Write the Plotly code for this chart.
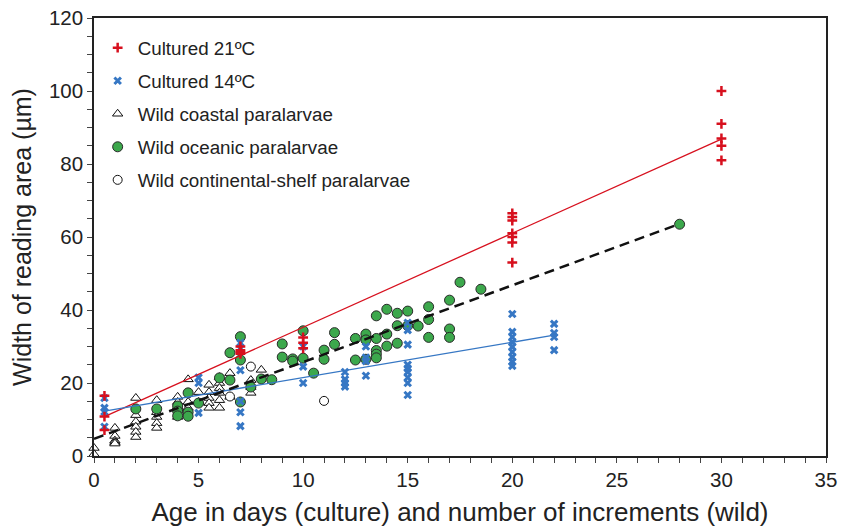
import plotly.graph_objects as go

# ---------------- data ----------------
c21_x = [0.5, 0.5, 0.5, 7, 7, 7, 7, 10, 10, 10,
         20, 20, 20, 20, 20, 20, 20, 30, 30, 30, 30, 30]
c21_y = [16.5, 10.8, 7.1, 30, 29, 28.5, 28, 32.5, 31, 29.5,
         66.5, 65.5, 64.5, 61, 60, 58.5, 53, 100, 91, 87, 85, 81]

c14_x = [0.5, 0.5, 0.5, 0.5, 5, 5, 5, 7, 7, 7, 7, 7, 7,
         10, 10, 10, 12, 12, 12, 12, 13, 13, 13, 13,
         15, 15, 15, 15, 15, 15, 15, 15, 15,
         20, 20, 20, 20, 20, 20, 20, 20, 20,
         22, 22, 22, 22]
c14_y = [15.9, 13.2, 12.1, 8, 21.5, 20, 11.8, 31, 29.5, 23.5, 15, 12, 8.2,
         30, 24.5, 20, 23, 21, 20, 19, 30, 27, 26, 22,
         36.5, 34.5, 30.5, 25, 24, 23, 21.5, 20, 16.7,
         38.9, 34, 32.6, 31.2, 29.9, 28.5, 27.1, 25.8, 24.7,
         36.2, 33.7, 32.6, 29]

coast_x = [0, 0, 1, 1, 1, 1, 1, 2, 2, 2, 2, 2, 2, 3, 3, 3, 3, 3,
           4, 4, 4, 4, 4, 4.5, 4.5, 4.5, 5, 5, 5.5, 5.5, 5.5, 5.5, 5.5,
           6, 6, 6, 6, 6, 6, 6.5, 6.5, 7.5, 7.5, 7.5, 8]
coast_y = [2.2, 0.5, 7.7, 5.5, 4.2, 3.8, 3.4, 15.9, 11.2, 9.4, 8, 6.6, 5.2,
           15.3, 12, 10.7, 9, 7.7,
           16.2, 14.8, 13.6, 13, 10.7, 21, 14.8, 13.2, 17.5, 14.8,
           19.5, 17.5, 15.9, 14.5, 13.2,
           21.6, 20, 18.6, 17.3, 15.3, 13.2, 22.7, 16.2, 20.8, 18.9, 17.3, 23.6]

ocean_x = [2, 3, 4, 4, 4, 4.5, 4.5, 4.5, 5, 6, 6.5, 6.5, 7, 7, 7, 7.5, 8, 8.5,
           9, 9, 9.5, 9.5, 10, 10, 10.5, 11, 11, 11.5, 11.5, 12.5, 12.5,
           13, 13, 13, 13.5, 13.5, 13.5, 13.5, 13.5, 14, 14, 14,
           14.5, 14.5, 14.5, 15, 15, 15.5, 16, 16, 16, 17, 17, 17,
           17.5, 18.5, 28]
ocean_y = [12.9, 12.9, 13.7, 12.3, 11, 17.3, 12, 10.9, 14.5, 21.4, 20.8, 28.3,
           32.7, 26.3, 14.8, 18.9, 21.1, 20.9,
           30.7, 27.1, 26.6, 26, 34.3, 26.8, 22.7, 29, 26.5, 33.8, 30.6, 32.2, 26.3,
           33.4, 31.8, 26.5, 38.4, 32.2, 28.9, 27.9, 26.9, 40.2, 33.4, 30.1,
           39.1, 35.7, 30.9, 39.7, 35.7, 35.6, 40.9, 37.4, 32.5, 42.7, 34.8, 32.5,
           47.6, 45.7, 63.5]

shelf_x = [6.5, 7.5, 11]
shelf_y = [16.3, 24.5, 15.1]

# fitted lines (end points)
fit21_x = [0.5, 30]
fit21_y = [10.8, 86.8]
fit14_x = [0.5, 22]
fit14_y = [12.3, 33.1]
fitwild_x = [0, 28]
fitwild_y = [4.7, 63.6]

names = ["Cultured 21ºC", "Cultured 14ºC", "Wild coastal paralarvae",
         "Wild oceanic paralarvae", "Wild continental-shelf paralarvae"]

x_ticks = [0, 5, 10, 15, 20, 25, 30, 35]
y_ticks = [0, 20, 40, 60, 80, 100, 120]

# ---------------- figure ----------------
RED = "#d7101e"
BLUE = "#3677c4"
GREEN = "#3ca84c"
FONT = "Liberation Sans, Arial, sans-serif"

fig = go.Figure()

fig.add_trace(go.Scatter(x=coast_x, y=coast_y, mode="markers", name=names[2],
                         legendgroup="c", legendrank=3, cliponaxis=False,
                         marker=dict(symbol="triangle-up", size=9, color="white",
                                     line=dict(color="#111", width=1))))
fig.add_trace(go.Scatter(x=shelf_x, y=shelf_y, mode="markers", name=names[4],
                         legendgroup="e", legendrank=5,
                         marker=dict(symbol="circle", size=9, color="white",
                                     line=dict(color="#111", width=1))))
fig.add_trace(go.Scatter(x=ocean_x, y=ocean_y, mode="markers", name=names[3],
                         legendgroup="d", legendrank=4,
                         marker=dict(symbol="circle", size=10, color=GREEN,
                                     line=dict(color="#2a2a2a", width=1))))
fig.add_trace(go.Scatter(x=c14_x, y=c14_y, mode="markers", name=names[1],
                         legendgroup="b", legendrank=2,
                         marker=dict(symbol="x-thin", size=6.5, color=BLUE,
                                     line=dict(color=BLUE, width=3))))
fig.add_trace(go.Scatter(x=c21_x, y=c21_y, mode="markers", name=names[0],
                         legendgroup="a", legendrank=1,
                         marker=dict(symbol="cross-thin", size=7, color=RED,
                                     line=dict(color=RED, width=2.5))))

fig.add_trace(go.Scatter(x=fit21_x, y=fit21_y, mode="lines", showlegend=False,
                         line=dict(color=RED, width=1.3)))
fig.add_trace(go.Scatter(x=fit14_x, y=fit14_y, mode="lines", showlegend=False,
                         line=dict(color=BLUE, width=1.3)))
fig.add_trace(go.Scatter(x=fitwild_x, y=fitwild_y, mode="lines", showlegend=False,
                         line=dict(color="#111", width=2.5, dash="10px,6px")))

axis_common = dict(showline=True, linecolor="#222", linewidth=1.5, mirror=True,
                   showgrid=False, zeroline=False, ticks="outside", ticklen=5,
                   tickcolor="#444", tickwidth=1, automargin=False,
                   tickfont=dict(family=FONT, size=20.5, color="#222"))

fig.update_xaxes(range=[0, 35], tickvals=x_ticks, ticktext=[str(v) for v in x_ticks],
                 minor=dict(dtick=1, ticks="outside", ticklen=5, tickcolor="#444"),
                 title=dict(text="Age in days (culture) and number of increments (wild)",
                            font=dict(family=FONT, size=26, color="#222"), standoff=12),
                 **axis_common)
fig.update_yaxes(range=[0, 120], tickvals=y_ticks, ticktext=[str(v) for v in y_ticks],
                 minor=dict(dtick=5, ticks="outside", ticklen=5, tickcolor="#444"),
                 title=dict(text="Width of reading area (µm)",
                            font=dict(family=FONT, size=25, color="#222"), standoff=10),
                 **axis_common)

fig.update_layout(
    width=841, height=530,
    margin=dict(l=94, r=15, t=18, b=74),
    paper_bgcolor="white", plot_bgcolor="white",
    showlegend=True,
    legend=dict(x=0.005, y=0.975, xanchor="left", yanchor="top",
                font=dict(family=FONT, size=18.8, color="#222"),
                bgcolor="rgba(0,0,0,0)", traceorder="grouped", tracegroupgap=5.6,
                itemsizing="trace"),
)

fig.write_html("out.html")
